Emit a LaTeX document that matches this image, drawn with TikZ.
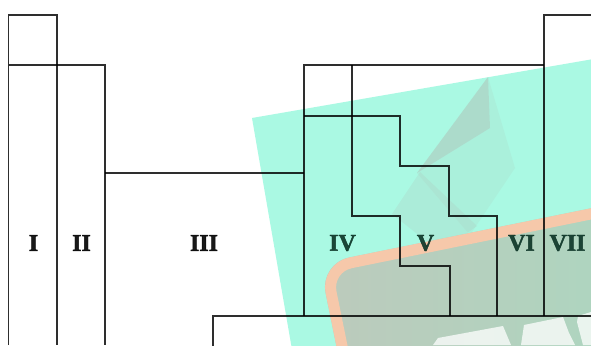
\documentclass[tikz,border=0pt]{standalone}
\usepackage{fontspec}
\newfontfamily\numfont{Liberation Serif}[BoldFeatures={FakeBold=1.6}]
\definecolor{tealbg}{RGB}{170,249,227}
\definecolor{polygray}{RGB}{175,200,188}
\definecolor{bandor}{RGB}{246,200,170}
\definecolor{boardL}{RGB}{188,202,188}
\definecolor{boardR}{RGB}{165,220,193}
\definecolor{inkgreen}{RGB}{12,52,38}
\begin{document}
\begin{tikzpicture}[x=1pt,y=-1pt,
  grid/.style={line width=1.3pt, draw=black, draw opacity=0.82, line join=miter},
  lab/.style={font=\numfont\bfseries\fontsize{24}{24}\selectfont, text opacity=0.9, inner sep=0pt}]
\useasboundingbox (0,0) rectangle (591,345);
\clip (0,0) rectangle (591,345);
\fill[white] (0,0) rectangle (591,345);
% rotated teal picture
\begin{scope}[shift={(252,118)}, rotate=9.8]
  \fill[tealbg] (0,0) rectangle (520,420);
\end{scope}
% faint low-poly facets
\fill[polygray, fill opacity=0.5] (488,77) -- (490,128) -- (417,173) -- cycle;
\fill[polygray, fill opacity=0.18] (488,77) -- (515,168) -- (470,235) -- (417,173) -- cycle;
\fill[polygray, fill opacity=0.25] (420,172) -- (477,226) -- (440,252) -- (392,214) -- cycle;
% board with orange rim
\begin{scope}[shift={(319.6,263.5)}, rotate=11.5]
  \path[left color=boardL, right color=boardR, rounded corners=30] (0,0) rectangle (420,300);
  \draw[bandor, line width=11pt, rounded corners=25] (5.5,5.5) rectangle (414.5,294.5);
\end{scope}
% chalk shapes
\fill[white, fill opacity=0.75] (433,345) -- (438,338) -- (503,326) -- (511,345) -- cycle;
\fill[white, fill opacity=0.75] (521,345) -- (524,325) -- (563,317) -- (569,333) -- (575,345) -- cycle;
\fill[white, fill opacity=0.75] (577,322) -- (578,316) -- (591,312) -- (591,345) -- (583,345) -- cycle;
% table outline
\draw[grid] (8.5,345) -- (8.5,15) -- (57,15) -- (57,345);
\draw[grid] (8.5,65) -- (105,65) -- (105,345);
\draw[grid] (105,173) -- (304,173);
\draw[grid] (304,316) -- (304,65) -- (544,65);
\draw[grid] (544,316) -- (544,15) -- (595,15);
\draw[grid] (304,116) -- (400,116) -- (400,166) -- (449,166) -- (449,216) -- (497,216) -- (497,316);
\draw[grid] (352,65) -- (352,216) -- (400,216) -- (400,266) -- (450,266) -- (450,316);
\draw[grid] (213,350) -- (213,316) -- (595,316);
% labels
\node[lab] (g1) at (33.5,243) {I};
\node[lab] (g2) at (81.5,243) {II};
\node[lab] (g3) at (204,243) {III};
\node[lab, text=inkgreen] (g4) at (342.5,243) {IV};
\node[lab, text=inkgreen] (g5) at (425.5,243) {V};
\node[lab, text=inkgreen] (g6) at (521.5,243) {VI};
\node[lab, text=inkgreen] (g7) at (567.5,243) {VII};
\end{tikzpicture}
\end{document}
